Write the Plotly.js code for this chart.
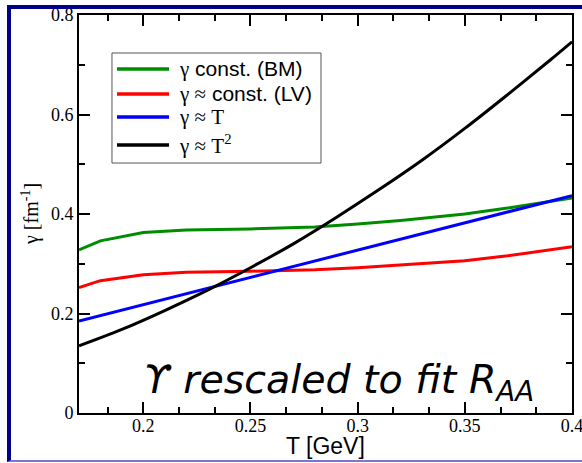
<!DOCTYPE html>
<html>
<head>
<meta charset="utf-8">
<script src="https://cdn.plot.ly/plotly-3.0.1.min.js"></script>
<style>
  html, body { margin: 0; padding: 0; background: #ffffff; }
  #chart { position: absolute; left: 0; top: 0; width: 582px; height: 463px; }
  #frame {
    position: absolute; left: 7px; top: 5px; width: 575px; height: 457px;
    box-sizing: border-box; pointer-events: none;
    border-left: 4px solid #00008b; border-top: 4px solid #00008b;
    border-bottom: 2px solid #7878d2;
  }
</style>
</head>
<body>
<div id="chart"></div>
<div id="frame"></div>
<script>
// Temperature dependence of the damping rate gamma for four parameterisations
const tBM = [0.17, 0.18, 0.20, 0.22, 0.25, 0.28, 0.30, 0.32, 0.35, 0.37, 0.40];
const gammaBM = [0.328, 0.346, 0.363, 0.368, 0.370, 0.374, 0.380, 0.387, 0.400, 0.412, 0.432];

const tLV = [0.17, 0.18, 0.20, 0.22, 0.25, 0.28, 0.30, 0.32, 0.35, 0.37, 0.40];
const gammaLV = [0.252, 0.266, 0.278, 0.283, 0.285, 0.288, 0.292, 0.297, 0.306, 0.316, 0.334];

const tLin = [0.17, 0.20, 0.25, 0.30, 0.35, 0.40];
const gammaLin = [0.185, 0.218, 0.273, 0.327, 0.382, 0.437];

const tSq = [0.17, 0.19, 0.21, 0.23, 0.25, 0.27, 0.29, 0.31, 0.33, 0.35, 0.37, 0.39, 0.40];
const gammaSq = [0.135, 0.168, 0.206, 0.247, 0.292, 0.340, 0.393, 0.449, 0.508, 0.572, 0.640, 0.710, 0.746];

const xTickVals = [0.2, 0.25, 0.3, 0.35, 0.4];
const xTickText = ['0.2', '0.25', '0.3', '0.35', '0.4'];
const yTickVals = [0, 0.2, 0.4, 0.6, 0.8];
const yTickText = ['0', '0.2', '0.4', '0.6', '0.8'];

const serif = 'Liberation Serif';
const sans = 'Liberation Sans';
const g = "<span style='font-family:Liberation Serif'>";

const names = [
  g + 'γ</span> const. (BM)',
  g + 'γ ≈</span> const. (LV)',
  g + 'γ ≈ T</span>',
  g + 'γ ≈ T<sup>2</sup></span>'
];
const colors = ['#008c00', '#ff0000', '#0000ff', '#000000'];

function curve(x, y, i, shape) {
  return { x: x, y: y, name: names[i], type: 'scatter', mode: 'lines', showlegend: false,
           line: { color: colors[i], width: 3, shape: shape || 'linear' } };
}

const data = [
  curve(tBM, gammaBM, 0),
  curve(tLV, gammaLV, 1),
  curve(tLin, gammaLin, 2),
  curve(tSq, gammaSq, 3, 'spline')
];

// Framed key in the upper left of the plot area (paper coordinates)
const keyBox = { x0: 0.0669, x1: 0.4909, y0: 0.6281, y1: 0.9045 };
const keyRows = [0.8643, 0.8015, 0.7437, 0.6734];
const shapes = [{
  type: 'rect', xref: 'paper', yref: 'paper', layer: 'above',
  x0: keyBox.x0, x1: keyBox.x1, y0: keyBox.y0, y1: keyBox.y1,
  line: { color: '#555555', width: 1 }, fillcolor: '#ffffff'
}];
const keyText = [];
keyRows.forEach(function (yy, i) {
  shapes.push({ type: 'line', xref: 'paper', yref: 'paper', layer: 'above',
                x0: 0.0771, x1: 0.1826, y0: yy, y1: yy,
                line: { color: colors[i], width: 3.5 } });
  keyText.push({ xref: 'paper', yref: 'paper', x: 0.1988, y: yy, xanchor: 'left', yanchor: 'middle',
                 text: names[i], showarrow: false, font: { family: sans, size: 21, color: '#000' } });
});

const axisCommon = {
  showgrid: false, zeroline: false, showline: true, linecolor: '#000', linewidth: 2,
  ticks: 'inside', ticklen: 11, tickwidth: 2, tickcolor: '#000', mirror: 'allticks',
  ticklabeloverflow: 'allow',
  tickfont: { family: serif, size: 18, color: '#000' }
};

const layout = {
  width: 582, height: 463,
  margin: { l: 79, r: 10, t: 15, b: 50 },
  paper_bgcolor: '#ffffff', plot_bgcolor: '#ffffff',
  showlegend: false,
  xaxis: Object.assign({}, axisCommon, {
    range: [0.17, 0.4], tickmode: 'array', tickvals: xTickVals, ticktext: xTickText,
    ticklabelstandoff: -5,
    minor: { tickmode: 'linear', tick0: 0.2, dtick: 0.05 / 3, ticks: 'inside', ticklen: 6, tickwidth: 2, tickcolor: '#000' }
  }),
  yaxis: Object.assign({}, axisCommon, {
    range: [0, 0.8], tickmode: 'array', tickvals: yTickVals, ticktext: yTickText,
    minor: { tickmode: 'linear', tick0: 0, dtick: 0.1, ticks: 'inside', ticklen: 6, tickwidth: 2, tickcolor: '#000' }
  }),
  shapes: shapes,
  annotations: keyText.concat([
    { xref: 'paper', yref: 'paper', x: 0.5, y: -0.084, xanchor: 'center', yanchor: 'middle',
      text: 'T [GeV]', showarrow: false, font: { family: sans, size: 23, color: '#000' } },
    { xref: 'paper', yref: 'paper', x: -0.0994, y: 0.5, xanchor: 'center', yanchor: 'middle',
      textangle: -90, text: 'γ [fm<sup>-1</sup>]', showarrow: false,
      font: { family: serif, size: 20, color: '#000' } },
    { xref: 'paper', yref: 'paper', x: 0.1258, y: 0.008, xanchor: 'left', yanchor: 'bottom',
      text: 'ϒ rescaled to fit R<sub>AA</sub>', showarrow: false,
      font: { family: 'DejaVu Sans', size: 39.5, style: 'italic', color: '#000' } }
  ])
};

Plotly.newPlot('chart', data, layout, { displayModeBar: false, staticPlot: true });
</script>
</body>
</html>
